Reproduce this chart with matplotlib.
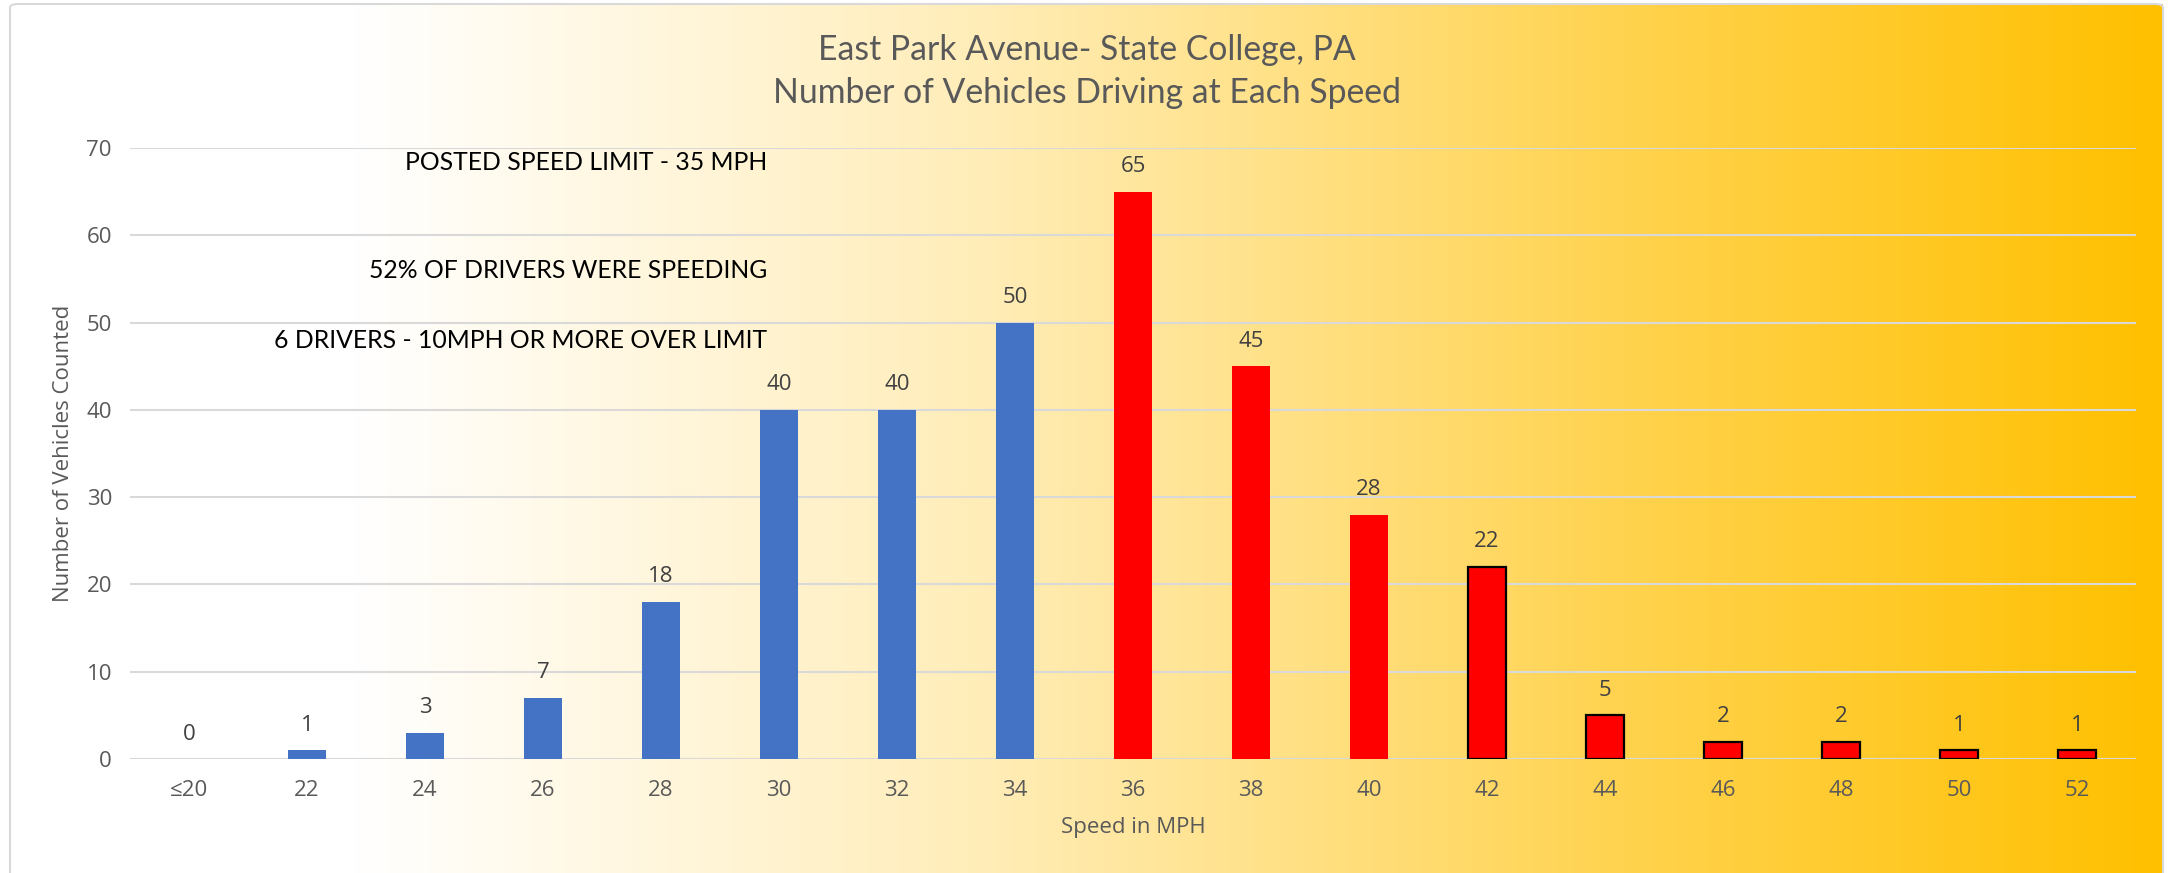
import numpy as np
import matplotlib
matplotlib.use("Agg")
import matplotlib.pyplot as plt
from matplotlib.colors import LinearSegmentedColormap
from matplotlib.patches import FancyBboxPatch
from matplotlib import font_manager

# ---- data ----
categories = ["≤20", "22", "24", "26", "28", "30", "32", "34", "36",
              "38", "40", "42", "44", "46", "48", "50", "52"]
counts = [0, 1, 3, 7, 18, 40, 40, 50, 65, 45, 28, 22, 5, 2, 2, 1, 1]
title_lines = ["East Park Avenue- State College, PA",
               "Number of Vehicles Driving at Each Speed"]
notes = ["POSTED SPEED LIMIT - 35 MPH",
         "52% OF DRIVERS WERE SPEEDING",
         "6 DRIVERS - 10MPH OR MORE OVER LIMIT"]
speed_limit_index = 8      # first category above the limit (36)
outlined_from_index = 11   # bars drawn with black outline (42+)

names = {f.name for f in font_manager.fontManager.ttflist}
if "Liberation Sans Narrow" in names:
    nfam, nfs = ["Liberation Sans Narrow", "DejaVu Sans"], 20.5
else:
    nfam, nfs = ["Lato", "DejaVu Sans"], 17.8

W, H = 2168, 873
fig = plt.figure(figsize=(W / 100, H / 100), dpi=100)
fig.patch.set_facecolor("white")

# ---- gradient background ----
bg = fig.add_axes([10 / W, 0, (2163 - 10) / W, (873 - 4) / H], zorder=0)
cmap = LinearSegmentedColormap.from_list(
    "bg", [(0.0, "#FFFFFF"), (0.16, "#FFFFFF"), (0.45, "#FFEDB8"),
           (0.75, "#FFD34F"), (1.0, "#FFC000")])
grad = np.linspace(0, 1, 1024).reshape(1, -1)
bg.imshow(grad, aspect="auto", cmap=cmap, extent=[0, 1, 0, 1])
bg.set_axis_off()

border = FancyBboxPatch((10 / W, -0.05), (2163 - 10) / W, (873 - 4) / H + 0.05,
                        boxstyle="round,pad=0,rounding_size=0.004",
                        transform=fig.transFigure, fill=False,
                        edgecolor="#D9D9D9", linewidth=1.5, zorder=1)
fig.patches.append(border)

# ---- main axes ----
ax = fig.add_axes([130 / W, 1 - 759 / H, (2136 - 130) / W, (759 - 148) / H], zorder=2)
ax.set_facecolor("none")
x = np.arange(len(categories))
colors = ["#4472C4" if i < speed_limit_index else "#FF0000" for i in range(len(categories))]
edges = ["black" if i >= outlined_from_index else "none" for i in range(len(categories))]
lws = [1.6 if i >= outlined_from_index else 0 for i in range(len(categories))]
ax.bar(x, counts, width=0.314, color=colors, edgecolor=edges, linewidth=lws, zorder=3)

ax.set_xlim(-0.5, len(categories) - 0.5)
ax.set_ylim(0, 70)
ax.set_yticks(np.arange(0, 71, 10))
ax.yaxis.grid(True, color="#D9D9D9", linewidth=1.5, zorder=0)
ax.set_axisbelow(True)
for s in ax.spines.values():
    s.set_visible(False)

fam = ["Open Sans", "DejaVu Sans"]
fs = 16
ax.set_xticks(x)
ax.set_xticklabels(categories, family=fam, fontsize=fs, color="#595959")
ax.tick_params(axis="y", length=0, pad=13, labelsize=fs, labelcolor="#595959")
ax.tick_params(axis="x", length=0, pad=15, labelsize=fs, labelcolor="#595959")
for lab in ax.get_yticklabels():
    lab.set_family(fam)

for xi, c in zip(x, counts):
    ax.annotate(str(c), (xi, c), xytext=(0, 18), textcoords="offset points",
                ha="center", va="center", fontsize=fs, color="#404040", family=fam)

ax.set_xlabel("Speed in MPH", family=fam, fontsize=fs, color="#595959", labelpad=12)
ax.set_ylabel("Number of Vehicles Counted", family=fam, fontsize=fs, color="#595959", labelpad=9)

# ---- title ----
tfam = ["Lato", "DejaVu Sans"]
fig.text(1087 / W, 1 - 50 / H, title_lines[0], ha="center", va="center",
         fontsize=24.3, color="#595959", family=tfam)
fig.text(1087 / W, 1 - 93 / H, title_lines[1], ha="center", va="center",
         fontsize=24.3, color="#595959", family=tfam)

# ---- notes ----
for ty, t in zip([163, 271, 340], notes):
    fig.text(767 / W, 1 - ty / H, t, ha="right", va="center",
             fontsize=nfs, color="black", family=nfam)

fig.savefig("out.png", dpi=100)
